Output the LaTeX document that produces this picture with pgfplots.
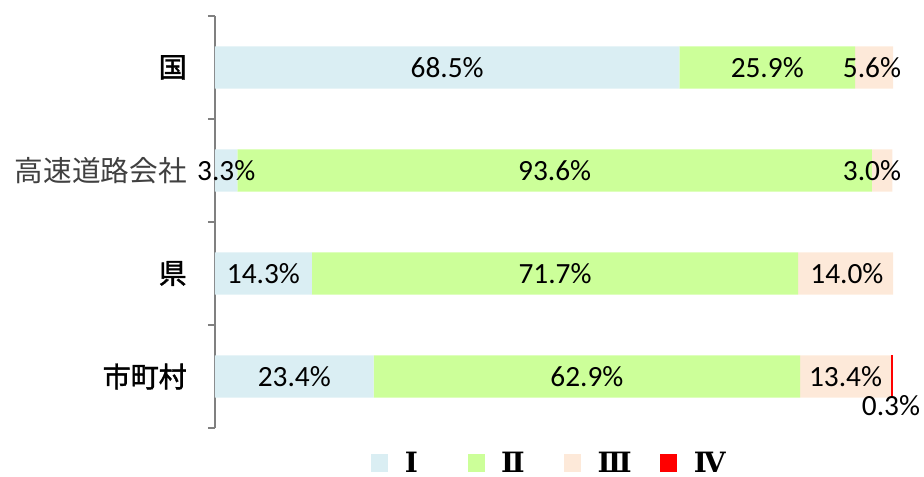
\documentclass[border=0pt]{standalone}
\usepackage{pgfplots}
\pgfplotsset{compat=1.18}
\usepackage{fontspec}
\setmainfont{Carlito}
\newfontfamily\cjk{Noto Sans CJK JP}
\newfontfamily\cjkm{Noto Sans CJK JP}[FakeBold=1.5]
\newfontfamily\romfont{DejaVu Serif}
\definecolor{cI}{HTML}{DAEEF3}
\definecolor{cII}{HTML}{CCFF99}
\definecolor{cIII}{HTML}{FDE9D9}
\definecolor{cIV}{HTML}{FF0000}
\definecolor{axgray}{HTML}{808080}
\pgfplotsset{base/.style={width=508.5pt, height=309pt, scale only axis,
  xmin=0, xmax=100, ymin=-0.5, ymax=3.5}}
\newcommand{\legtext}[1]{\makebox[59.5pt][l]{\hspace{12.5pt}\romfont\bfseries\fontsize{21}{25}\selectfont #1}}
\begin{document}
\begin{tikzpicture}
\begin{axis}[base, name=main,
  xbar stacked, bar width=0.41,
  axis x line=none, axis y line*=left,
  axis line style={-, draw=axgray, line width=1.5pt},
  ytick={0,1,2,3},
  yticklabels={{\cjkm 市町村},{\cjkm 県},{\cjk\color{black!75}\fontsize{21.5}{24}\selectfont 高速道路会社},{\cjkm 国}},
  minor ytick={-0.5,0.5,1.5,2.5,3.5},
  major tick length=0pt, minor tick length=5.25pt, tick align=outside,
  minor tick style={draw=axgray, line width=1.5pt},
  major tick style={draw=none},
  yticklabel style={inner sep=0pt, xshift=-21pt, font=\fontsize{21}{24}\selectfont},
  legend columns=-1,
  legend style={draw=none, fill=none, at={(0.230,-0.085)}, anchor=west,
    inner sep=0pt, column sep=0pt, nodes={inner sep=0pt}},
  legend image code/.code={\fill[#1] (0pt,-6.4pt) rectangle (12.75pt,6.4pt);},
]
\addplot[fill=cI, draw=none] coordinates {(23.4,0) (14.3,1) (3.3,2) (68.5,3)};
\addlegendentry{\legtext{Ⅰ}}
\addplot[fill=cII, draw=none] coordinates {(62.9,0) (71.7,1) (93.6,2) (25.9,3)};
\addlegendentry{\legtext{Ⅱ}}
\addplot[fill=cIII, draw=none] coordinates {(13.4,0) (14.0,1) (3.0,2) (5.6,3)};
\addlegendentry{\legtext{Ⅲ}}
\addplot[fill=cIV, draw=none] coordinates {(0.3,0) (0,1) (0,2) (0,3)};
\addlegendentry{\legtext{Ⅳ}}
\end{axis}
\begin{axis}[base, hide axis]
\addplot[draw=none, nodes near coords, point meta=explicit symbolic,
  every node near coord/.style={anchor=center, inner sep=0pt, font=\fontsize{22}{26}\selectfont, text=black}]
  coordinates {
  (34.25,3) [68.5\%] (81.45,3) [25.9\%] (96.9,3) [5.6\%]
  (1.65,2) [3.3\%] (50.1,2) [93.6\%] (96.9,2) [3.0\%]
  (7.15,1) [14.3\%] (50.15,1) [71.7\%] (93.2,1) [14.0\%]
  (11.7,0) [23.4\%] (54.85,0) [62.9\%] (93.0,0) [13.4\%]
  (99.7,-0.28) [0.3\%]
  };
\end{axis}
\pgfresetboundingbox
\path (main.south west) ++(-161.25pt,-36pt) rectangle ++(693pt,357pt);
\end{tikzpicture}
\end{document}
